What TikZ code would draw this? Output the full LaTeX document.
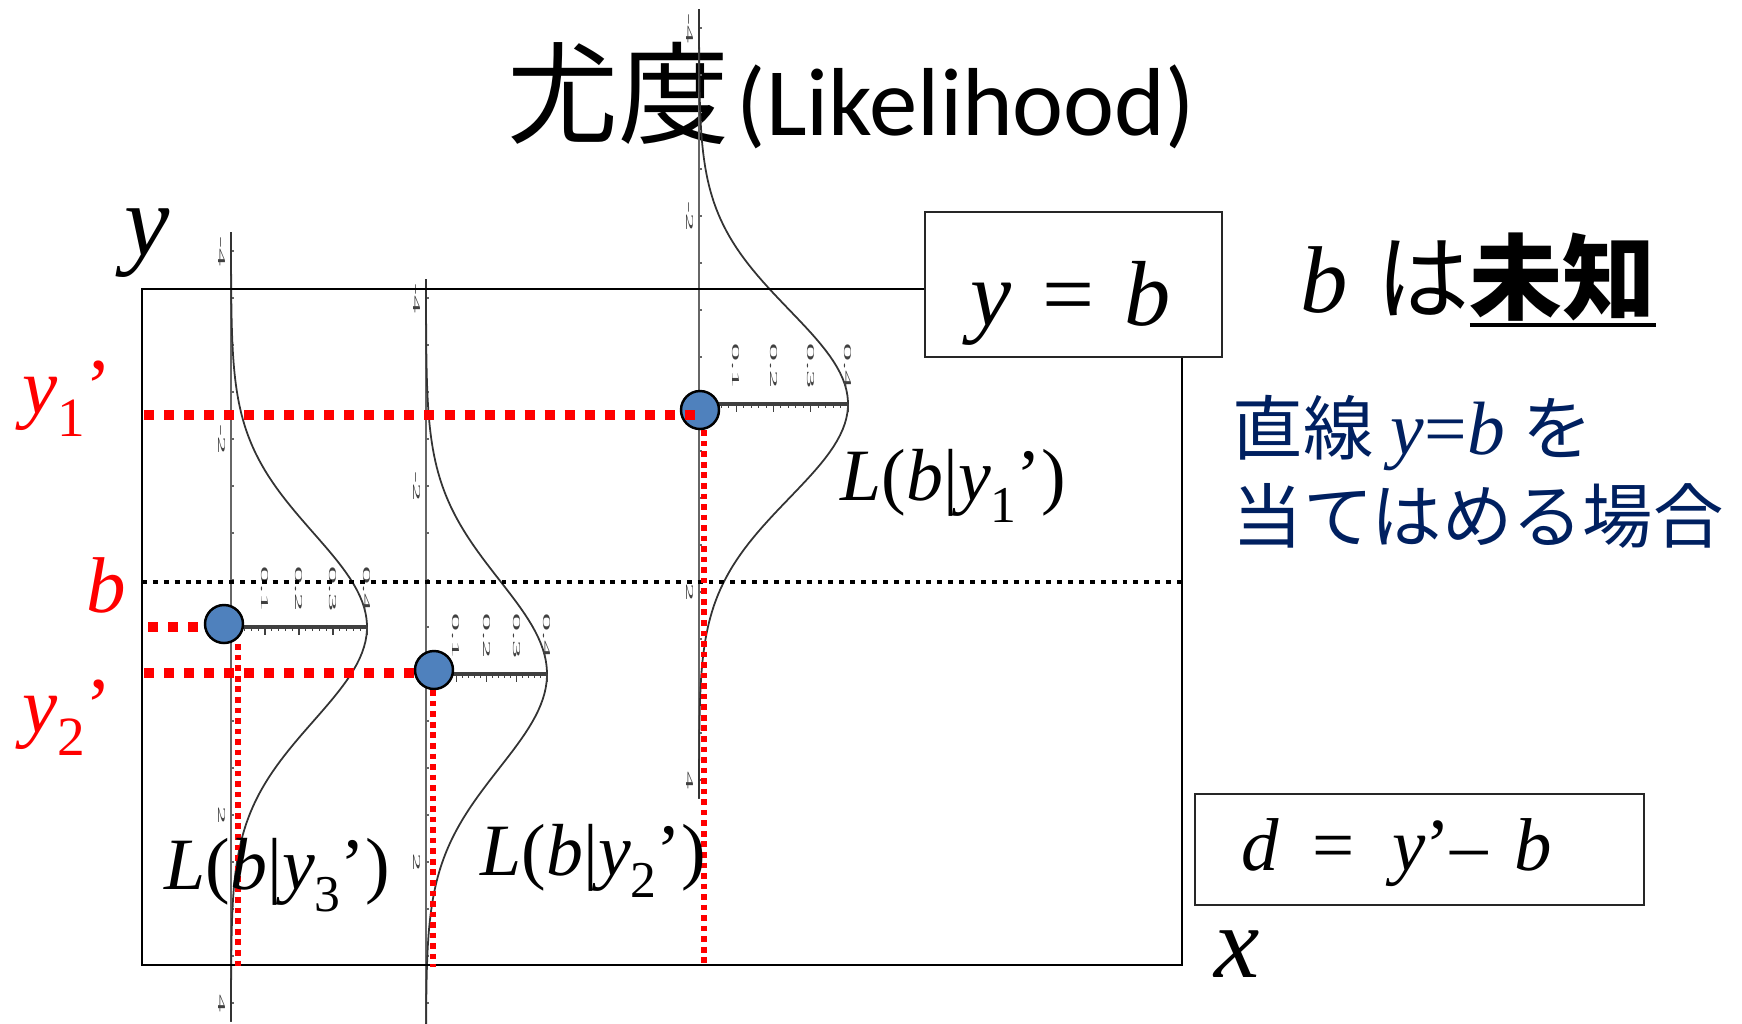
\documentclass[tikz,border=0pt]{standalone}
\usepackage{fontspec}
\usepackage{graphicx}
\setmainfont{Liberation Serif}
\newfontfamily\cjk{Noto Sans CJK JP}
\newfontfamily\calibri{Carlito}

\definecolor{obsblue}{HTML}{4F81BD}
\definecolor{navy}{RGB}{0,32,96}

% tiny stretched tick text of the small density plots
\newcommand{\ticktxt}[1]{\scalebox{3.4}[1]{#1}}
\newcommand{\lowsub}[1]{\raisebox{-.3em}{\scalebox{.7}{#1}}}
\newcommand{\ulbox}[1]{\setbox0=\hbox{#1}\rlap{\rule[-.16em]{\wd0}{1.1pt}}\box0}
% one density plot on its side: name, axis x, peak y, peak height, axis labels
\newcommand{\likeplot}[5]{%
  \draw[plotaxis] (#2,#3-395) -- (#2,#3+395);
  \foreach \yy in {-4,-3.5,...,4} \draw[plotaxis] (#2,#3+94*\yy) -- ++(3,0);
  \foreach \yy in {#5} \node[ticklab] (#1v\yy) at (#2-9,#3+94*\yy) {\ticktxt{\yy}};
  \draw[density] plot[domain=-4.2:4.2, samples=140] ({#2+#4*exp(-0.5*(\x)*(\x))}, {#3+94*\x});
  \draw[probaxis] (#2,#3) -- ++(#4,0);
  \foreach \kk in {1,...,20} \draw[probtick] (#2+#4*\kk/20,#3) -- ++(0,4);
  \foreach \kk in {1,...,4} {
    \draw[probtick] (#2+#4*\kk/4,#3) -- ++(0,8);
    \node[ticklab] (#1h\kk) at (#2+#4*\kk/4,#3-38) {\ticktxt{0.\kk}};
  }
}

\begin{document}
\begin{tikzpicture}[
  x=0.1mm,
  y=-0.1mm,
  frame/.style={draw=black, line width=0.8pt},
  plotaxis/.style={draw=black!60, line width=0.35pt},
  density/.style={draw=black!80, line width=0.5pt},
  probaxis/.style={draw=black!75, line width=1pt},
  probtick/.style={draw=black!75, line width=0.3pt},
  ticklab/.style={rotate=-90, inner sep=0pt, text=black!75, font=\fontsize{3}{3}\selectfont},
  obs/.style={circle, draw=black, line width=0.7pt, fill=obsblue, minimum size=3.8mm, inner sep=0pt},
  reddash/.style={red, line width=2.7pt, dash pattern=on 2.85pt off 2.85pt},
  reddot/.style={red, line width=1.5pt, dash pattern=on 1.6pt off 1.4pt},
  bdot/.style={black, line width=1.4pt, dash pattern=on 1.4pt off 1.7pt},
  eqbox/.style={draw=black!85, line width=0.7pt, fill=white, inner sep=0pt},
  axlab/.style={anchor=base, inner sep=0pt, font=\fontsize{29}{29}\selectfont\itshape},
  mathlab/.style={anchor=base west, inner sep=0pt, font=\fontsize{21}{21}\selectfont},
  boxlab/.style={anchor=base west, inner sep=0pt, font=\fontsize{26.3}{26.3}\selectfont\itshape},
  dlab/.style={anchor=base west, inner sep=0pt, font=\fontsize{21.3}{21.3}\selectfont\itshape},
  redlab/.style={anchor=base west, inner sep=0pt, text=red, font=\fontsize{22.5}{22.5}\selectfont},
  bluetxt/.style={anchor=base west, inner sep=0pt, text=navy, font=\fontsize{20}{20}\selectfont}
]
\useasboundingbox (0,0) rectangle (1742,1023);
\clip (0,0) rectangle (1742,1023);

\node[anchor=base west, inner sep=0pt] (title) at (507,135)
  {{\cjk\fontsize{31.6}{32}\selectfont 尤度}\kern2pt{\calibri\fontsize{27.5}{28}\selectfont (Likelihood)}};

\likeplot{pa}{699}{404}{149}{-4,-2,2,4}
\likeplot{pb}{426}{674}{121}{-4,-2,2}
\likeplot{pc}{231}{627}{136}{-4,-2,2,4}

\draw[frame] (142,289) rectangle (1182,965);
\node[axlab] (ylab) at (147,255) {y};
\node[axlab] (xlab) at (1237,977) {x};

\coordinate (bl) at (142,582);
\coordinate (br) at (1182,582);
\draw[bdot] (bl) -- (br);

\node[obs] (c1) at (700,410) {};
\node[obs] (c2) at (434,670) {};
\node[obs] (c3) at (224,624) {};

\coordinate (y1l) at (144,415);
\coordinate (y2l) at (144,673);
\coordinate (y3l) at (148,627);
\coordinate (v1b) at (704,965);
\coordinate (v2b) at (433,967);
\coordinate (v3b) at (238,967);

\draw[reddash] (y1l) -- (y1l -| c1.center);
\draw[reddash] (y2l) -- (y2l -| c2.west);
\draw[reddash] (y3l) -- (y3l -| c3.west);
\draw[reddot] (c1.south -| v1b) -- (v1b);
\draw[reddot] (c2.south -| v2b) -- (v2b);
\draw[reddot] (c3.south -| v3b) -- (v3b);

\node[redlab] (ry1) at (22,413) {\textit{y}\lowsub{1}’};
\node[redlab] (rb) at (86,612) {\textit{b}};
\node[redlab] (ry2) at (22,732) {\textit{y}\lowsub{2}’};

\node[mathlab] (L1) at (840,500) {\textit{L}(\textit{b}|\textit{y}\lowsub{1}’)};
\node[mathlab] (L2) at (480,875) {\textit{L}(\textit{b}|\textit{y}\lowsub{2}’)};
\node[mathlab] (L3) at (164,889) {\textit{L}(\textit{b}|\textit{y}\lowsub{3}’)};

\node[eqbox, minimum width=29.7mm, minimum height=14.5mm] (ybox) at (1073.5,284.5) {};
\node[boxlab] (ytxt) at (970,325) {y\hspace{.33em}\upshape=\hspace{.33em}\itshape b};
\node[eqbox, minimum width=44.9mm, minimum height=11.1mm] (dbox) at (1419.5,849.5) {};
\node[dlab] (dtxt) at (1241,870) {d\hspace{.45em}\upshape=\hspace{.5em}\itshape y\upshape’–\hspace{.35em}\itshape b};

\node[anchor=base west, inner sep=0pt] (unk) at (1300,312)
  {{\fontsize{27}{27}\selectfont\textit{b}\hspace{.3em}}{\cjk\fontsize{26.5}{27}\selectfont は\ulbox{\bfseries 未知}}};
\node[bluetxt] (fit1) at (1232,454) {{\cjk 直線} {\fontsize{21.5}{21.5}\selectfont\textit{y}=\textit{b}} {\cjk を}};
\node[bluetxt] (fit2) at (1232,542) {\cjk 当てはめる場合};
\end{tikzpicture}
\end{document}
